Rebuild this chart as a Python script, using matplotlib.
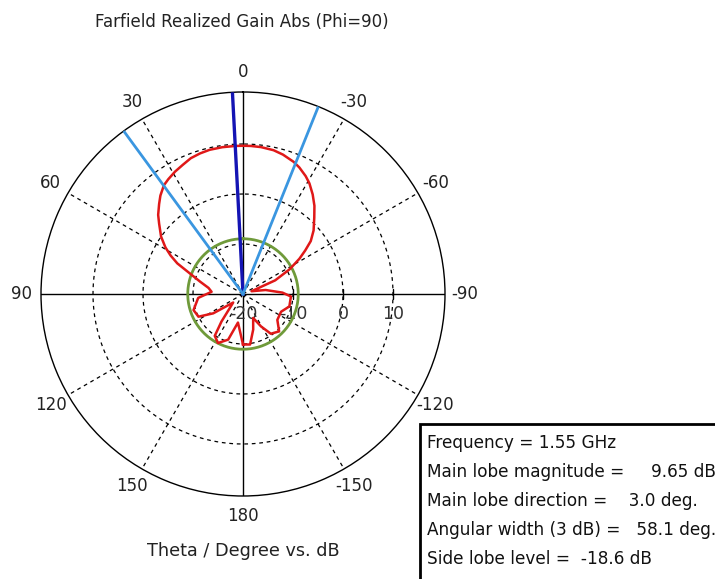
import numpy as np
import matplotlib.pyplot as plt
from matplotlib.patches import Rectangle
import matplotlib.transforms as mtransforms

# farfield cut, phi = 90 (theta in degrees, realized gain in dB)
theta_deg = [-180, -172, -164, -157, -151, -145, -136, -127, -115, -105, -93, -88,
             -80, -72, -67, -62, -58, -55, -52, -48, -43, -39, -35, -31, -28, -24,
             -21, -16, -12, -7, -3, 0, 3, 8, 13, 17, 21, 25, 29, 33, 36, 40,
             43, 47, 50, 55, 59, 62, 65, 69, 74, 80, 86, 95, 108, 117,
             123, 131, 142, 146, 153, 162, 170, 180]
gain_db = [-9.9, -9.8, -12.6, -14.8, -12.6, -10.3, -9.6, -11.4, -11.6, -10.4, -10.4, -12.1,
           -15.4, -18.2, -13.0, -9.4, -6.7, -4.8, -2.8, -1.0, 0.9, 2.7, 4.3, 5.8, 6.7, 7.7,
           8.3, 9.0, 9.4, 9.6, 9.65, 9.65, 9.65, 9.65, 9.6, 9.4, 9.1, 8.5, 8.0, 7.4, 6.9, 5.7,
           4.6, 3.2, 1.9, 0.0, -1.9, -3.6, -5.5, -8.7, -11.1, -13.0, -13.7, -11.0, -9.6, -10.0,
           -12.9, -17.4, -13.0, -9.9, -9.0, -10.4, -14.2, -9.9]

main_dir = 3.0
beam_edges = [36.2, -21.9]
side_lobe_db = -8.95
grid_db = [-10, 0, 10]
r_labels = [-20, -10, 0, 10]
theta_ticks = [0, 30, 60, 90, 120, 150, 180, -150, -120, -90, -60, -30]
info_lines = ["Frequency = 1.55 GHz",
              "Main lobe magnitude =     9.65 dB",
              "Main lobe direction =    3.0 deg.",
              "Angular width (3 dB) =   58.1 deg.",
              "Side lobe level =  -18.6 dB"]

W, H = 715, 579
fig = plt.figure(figsize=(W / 100, H / 100), dpi=100)
cx, cy, R = 243, 294, 202
ax = fig.add_axes([(cx - R) / W, (H - cy - R) / H, 2 * R / W, 2 * R / H], projection='polar')
ax.set_theta_zero_location('N')
ax.set_theta_direction(1)
rmin, rmax = -20, 20.4
ax.set_ylim(rmin, rmax)
ax.grid(False)
ax.set_xticks([])
ax.set_yticks([])
ax.spines['polar'].set_linewidth(1.0)
ax.spines['polar'].set_color('black')

full = np.linspace(0, 2 * np.pi, 361)
dash = (0, (3, 3))
# dashed grid circles and spokes
for g in grid_db:
    ax.plot(full, np.full_like(full, g), color='black', lw=0.9, ls=dash, zorder=1)
for t in theta_ticks:
    th = np.deg2rad(t)
    if t % 90 == 0:
        ax.plot([th, th], [rmin, rmax], color='black', lw=1.0, zorder=1)
    else:
        ax.plot([th, th], [rmin, rmax], color='black', lw=0.9, ls=dash, zorder=1)

# small ticks on the horizontal axis
ax.plot(np.full(3, -np.pi / 2), grid_db, ls='none', marker='|', ms=7, mew=1.0, color='black')

# theta labels
for t in theta_ticks:
    ax.text(np.deg2rad(t), rmin + 222 / 5.0, str(t), ha='center', va='center',
            fontsize=12, color='#222222', clip_on=False)

# radial labels below the axis
lab_tr = mtransforms.offset_copy(ax.transData, fig=fig, x=0, y=-20, units='dots')
for v in r_labels:
    ax.text(-np.pi / 2, v, str(v), transform=lab_tr, ha='center', va='center',
            fontsize=12.5, color='#333333', clip_on=False)

# side lobe level circle
ax.plot(full, np.full_like(full, side_lobe_db), color='#6f9a3a', lw=2.0, zorder=3)

# pattern
ax.plot(np.deg2rad(theta_deg), gain_db, color='#e01818', lw=1.8, zorder=4)

# main lobe direction and 3 dB beam width
ax.plot([np.deg2rad(main_dir)] * 2, [rmin, rmax], color='#1414b4', lw=2.4, zorder=5)
for b in beam_edges:
    ax.plot([np.deg2rad(b)] * 2, [rmin, rmax], color='#3a96e0', lw=2.0, zorder=5)

fig.text(242 / W, 1 - 22 / H, "Farfield Realized Gain Abs (Phi=90)", ha='center', va='center',
         fontsize=12, color='#222222')
fig.text(243 / W, 1 - 551 / H, "Theta / Degree vs. dB", ha='center', va='center',
         fontsize=12.7, color='#222222')

# info box
box = Rectangle((420 / W, -0.05), 0.5, (H - 424) / H + 0.05, transform=fig.transFigure,
                facecolor='white', edgecolor='black', lw=2.0, clip_on=False)
fig.patches.append(box)
for i, s in enumerate(info_lines):
    fig.text(427 / W, 1 - (443 + 29 * i) / H, s, ha='left', va='center', fontsize=12.2,
             color='#111111')

fig.savefig('out.png', dpi=100)
